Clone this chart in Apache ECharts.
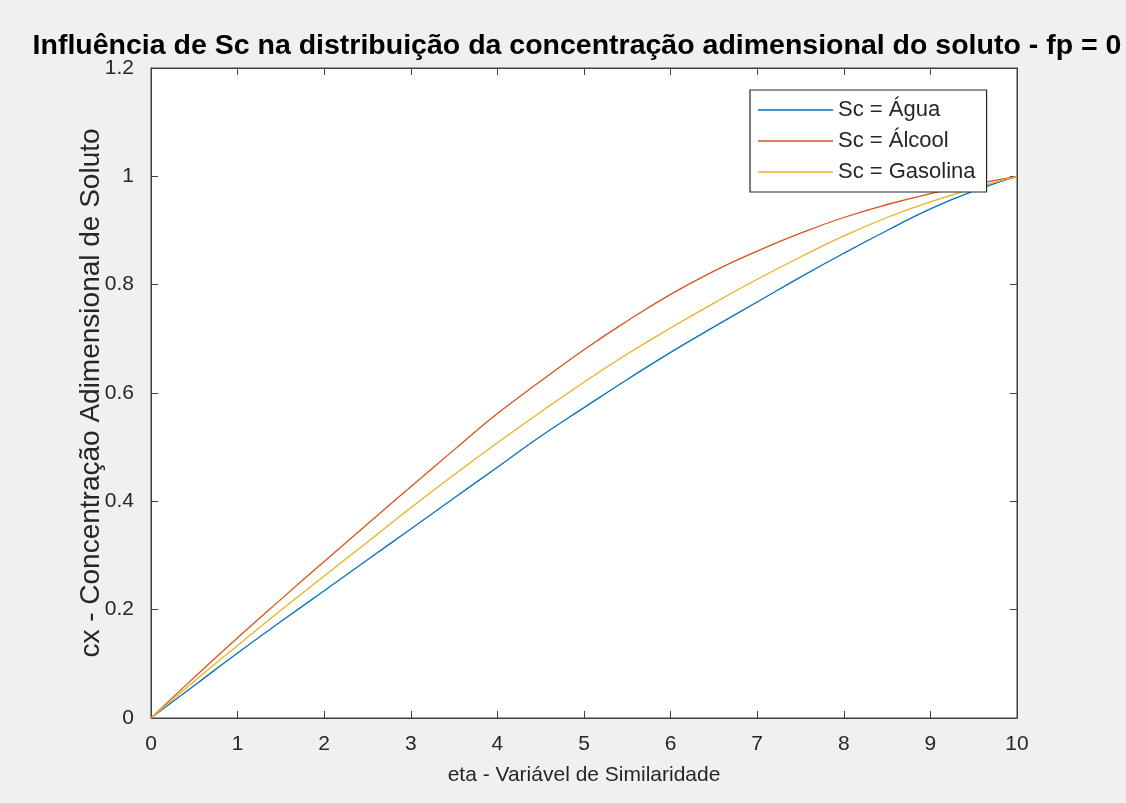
<!DOCTYPE html>
<html>
<head>
<meta charset="utf-8">
<script src="https://cdn.jsdelivr.net/npm/echarts@6/dist/echarts.min.js"></script>
<style>
html,body{margin:0;padding:0;background:#f0f0f0;}
#c{width:1126px;height:803px;}
</style>
</head>
<body>
<div id="c"></div>
<script>
const eta = [0,0.5,1,1.5,2,2.5,3,3.5,4,4.5,5,5.5,6,6.5,7,7.5,8,8.5,9,9.5,10];
const agua = [0,0.06,0.12,0.178,0.235,0.292,0.349,0.406,0.463,0.52,0.573,0.625,0.675,0.722,0.768,0.814,0.858,0.9,0.94,0.973,1.0];
const alcool = [0,0.075,0.148,0.219,0.289,0.358,0.427,0.495,0.562,0.622,0.68,0.733,0.782,0.825,0.862,0.895,0.924,0.948,0.968,0.985,1.0];
const gasolina = [0,0.068,0.134,0.199,0.262,0.325,0.388,0.449,0.508,0.565,0.62,0.672,0.72,0.766,0.81,0.851,0.89,0.924,0.953,0.978,1.0];
const seriesNames = ['Sc = Água','Sc = Álcool','Sc = Gasolina'];
const xTicks = [0,1,2,3,4,5,6,7,8,9,10];
const yTicks = [0,0.2,0.4,0.6,0.8,1,1.2];

const pair = (ys) => eta.map((x,i)=>[x,ys[i]]);
const axisColor = '#404040';
const font = 'Liberation Sans, Arial, sans-serif';
const tickCommon = {show:true,inside:true,length:7,lineStyle:{color:axisColor}};

const chart = echarts.init(document.getElementById('c'));
chart.setOption({
  backgroundColor:'#f0f0f0',
  animation:false,
  title:{
    text:'Influência de Sc na distribuição da concentração adimensional do soluto - fp = 0',
    left:577, top:32, textAlign:'center', padding:0,
    textStyle:{fontFamily:font,fontWeight:'bold',fontSize:28.5,color:'#000'}
  },
  grid:{left:151,right:109,top:68,bottom:85,show:true,backgroundColor:'#fff',borderColor:axisColor,borderWidth:1},
  legend:{
    orient:'vertical', left:750, top:90,
    padding:[9,11,9,8], itemGap:9,
    backgroundColor:'#fff', borderColor:'#262626', borderWidth:1.2,
    icon:'rect', itemWidth:75, itemHeight:1.5,
    textStyle:{fontFamily:font,fontSize:22,color:'#262626',lineHeight:22},
    data:seriesNames
  },
  xAxis:[{
    type:'value', min:0, max:10, interval:1,
    name:'eta - Variável de Similaridade', nameLocation:'middle', nameGap:47,
    nameMoveOverlap:false,
    nameTextStyle:{fontFamily:font,fontSize:21,color:'#262626'},
    axisLine:{show:true,onZero:false,lineStyle:{color:axisColor}},
    axisTick:tickCommon,
    axisLabel:{fontFamily:font,fontSize:21,color:'#262626',margin:16,formatter:v=>String(v)},
    splitLine:{show:false}
  },{
    type:'value', min:0, max:10, interval:1, position:'top',
    axisLine:{show:true,onZero:false,lineStyle:{color:axisColor}},
    axisTick:tickCommon,
    axisLabel:{show:false}, splitLine:{show:false}
  }],
  yAxis:[{
    type:'value', min:0, max:1.2, interval:0.2,
    name:'cx - Concentração Adimensional de Soluto', nameLocation:'middle', nameGap:46,
    nameMoveOverlap:false,
    nameTextStyle:{fontFamily:font,fontSize:28,color:'#262626'},
    axisLine:{show:true,onZero:false,lineStyle:{color:axisColor}},
    axisTick:tickCommon,
    axisLabel:{fontFamily:font,fontSize:21,color:'#262626',margin:17,formatter:v=>String(Math.round(v*10)/10)},
    splitLine:{show:false}
  },{
    type:'value', min:0, max:1.2, interval:0.2, position:'right',
    axisLine:{show:true,onZero:false,lineStyle:{color:axisColor}},
    axisTick:tickCommon,
    axisLabel:{show:false}, splitLine:{show:false}
  }],
  series:[
    {name:seriesNames[0],type:'line',data:pair(agua),smooth:true,symbol:'none',lineStyle:{color:'#0072BD',width:1.3},itemStyle:{color:'#0072BD'}},
    {name:seriesNames[1],type:'line',data:pair(alcool),smooth:true,symbol:'none',lineStyle:{color:'#D95319',width:1.3},itemStyle:{color:'#D95319'}},
    {name:seriesNames[2],type:'line',data:pair(gasolina),smooth:true,symbol:'none',lineStyle:{color:'#EDB120',width:1.3},itemStyle:{color:'#EDB120'}}
  ]
});
</script>
</body>
</html>
